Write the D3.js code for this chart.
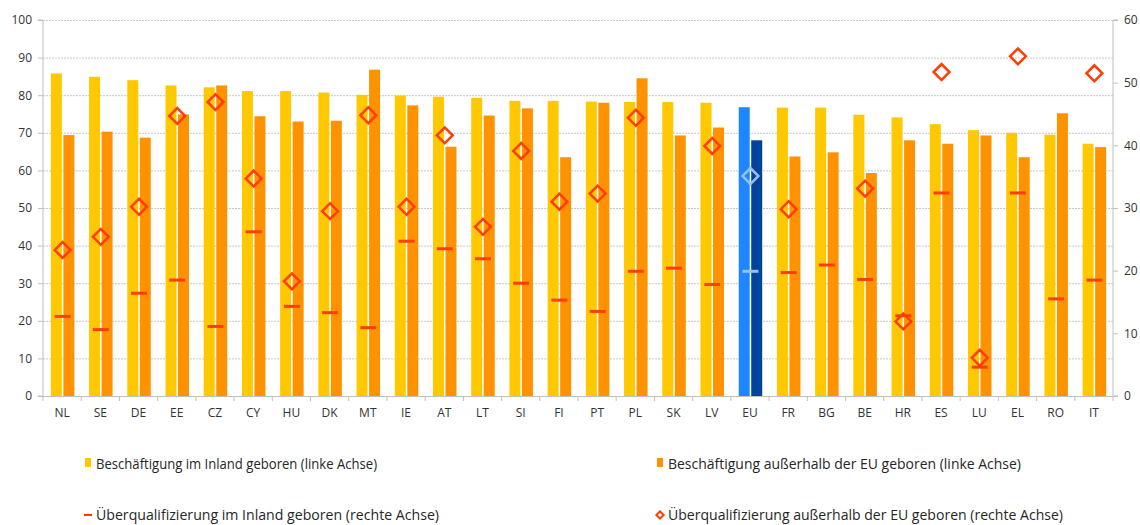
<!DOCTYPE html>
<html><head><meta charset="utf-8">
<script src="https://cdn.jsdelivr.net/npm/d3@7"></script>
<style>body{margin:0;background:#fff}svg{display:block}text{font-family:"Open Sans","Liberation Sans",sans-serif}</style>
</head><body><svg id="c" width="1140" height="525"></svg>
<script>
const categories=["NL","SE","DE","EE","CZ","CY","HU","DK","MT","IE","AT","LT","SI","FI","PT","PL","SK","LV","EU","FR","BG","BE","HR","ES","LU","EL","RO","IT"];
const empNative=[85.8,84.9,84.0,82.6,82.1,81.1,81.1,80.7,80.1,79.9,79.6,79.3,78.5,78.5,78.3,78.2,78.2,78.0,76.8,76.7,76.7,74.8,74.1,72.3,70.7,70.0,69.5,67.1];
const empNonEU=[69.4,70.3,68.7,74.9,82.6,74.4,73.0,73.2,86.8,77.3,66.3,74.6,76.5,63.5,78.0,84.5,69.3,71.4,68.0,63.7,64.8,59.3,68.0,67.1,69.3,63.5,75.2,66.2];
const overNative=[12.7,10.6,16.4,18.5,11.1,26.2,14.3,13.3,10.9,24.7,23.5,21.9,18.0,15.3,13.5,19.9,20.4,17.8,19.9,19.7,20.9,18.6,12.8,32.4,4.6,32.4,15.5,18.5];
const overNonEU=[23.3,25.4,30.2,44.7,46.9,34.7,18.3,29.5,44.8,30.2,41.6,27.0,39.1,31.0,32.3,44.4,null,39.9,35.1,29.8,null,33.1,11.9,51.7,6.1,54.2,null,51.5];
const leftTicks=[0,10,20,30,40,50,60,70,80,90,100];
const rightTicks=[0,10,20,30,40,50,60];
const legendLabels=["Beschäftigung im Inland geboren (linke Achse)","Beschäftigung außerhalb der EU geboren (linke Achse)","Überqualifizierung im Inland geboren (rechte Achse)","Überqualifizierung außerhalb der EU geboren (rechte Achse)"];

const svg=d3.select("#c");
const L=43,R=1113,T=20,B=396;
const x=d3.scaleBand().domain(categories).range([L,R]).paddingInner(0).paddingOuter(0);
const yL=d3.scaleLinear().domain([0,100]).range([B,T]);
const yR=d3.scaleLinear().domain([0,60]).range([B,T]);
const col={y:"#FFC800",o:"#FF9200",m:"#FF3D00",eu1:"#1E86FF",eu2:"#00449B",euM:"#9DBFEA"};

// gridlines
svg.append("g").selectAll("line").data(leftTicks.slice(1)).join("line")
 .attr("x1",L).attr("x2",R).attr("y1",d=>yL(d)+0.5).attr("y2",d=>yL(d)+0.5)
 .attr("stroke","#c8c8c8").attr("stroke-width",1).attr("stroke-dasharray","2,1");

// axes
const axL=svg.append("g").attr("transform",`translate(${L},0)`).call(d3.axisLeft(yL).tickValues(leftTicks).tickSize(5).tickPadding(6));
const axR=svg.append("g").attr("transform",`translate(${R},0)`).call(d3.axisRight(yR).tickValues(rightTicks).tickSize(5).tickPadding(6));
const axB=svg.append("g").attr("transform",`translate(0,${B})`).call(d3.axisBottom(x).tickSize(0).tickPadding(12));
[axL,axR,axB].forEach(a=>{a.select(".domain").attr("stroke","#bfbfbf");a.selectAll("line").attr("stroke","#bfbfbf");a.selectAll("text").attr("fill","#333").style("font-size","12px");});
axL.select(".domain").attr("d",`M-5,${T}H0V${B}H-5`);
axR.select(".domain").attr("d",`M5,${T}H0V${B}H5`);
// category separator ticks
svg.append("g").selectAll("line").data(d3.range(categories.length+1)).join("line")
 .attr("x1",i=>L+i*x.bandwidth()).attr("x2",i=>L+i*x.bandwidth()).attr("y1",B).attr("y2",B+5).attr("stroke","#bfbfbf");
svg.append("line").attr("x1",L).attr("x2",R).attr("y1",B+0.5).attr("y2",B+0.5).attr("stroke","#bfbfbf");

const bw=11, gap=1.5;
const cx=d=>x(d)+x.bandwidth()/2+0.5;
const isEU=c=>c==="EU";
const g=svg.append("g");
g.selectAll("rect.a").data(categories).join("rect").attr("class","a")
 .attr("x",c=>cx(c)-gap/2-bw).attr("width",bw)
 .attr("y",(c,i)=>yL(empNative[i])).attr("height",(c,i)=>B-yL(empNative[i]))
 .attr("fill",c=>isEU(c)?col.eu1:col.y);
g.selectAll("rect.b").data(categories).join("rect").attr("class","b")
 .attr("x",c=>cx(c)+gap/2).attr("width",bw)
 .attr("y",(c,i)=>yL(empNonEU[i])).attr("height",(c,i)=>B-yL(empNonEU[i]))
 .attr("fill",c=>isEU(c)?col.eu2:col.o);
// dashes
g.selectAll("line.d").data(categories).join("line").attr("class","d")
 .attr("x1",c=>cx(c)-8).attr("x2",c=>cx(c)+8)
 .attr("y1",(c,i)=>yR(overNative[i])).attr("y2",(c,i)=>yR(overNative[i]))
 .attr("stroke",c=>isEU(c)?col.euM:col.m).attr("stroke-width",3);
// diamonds
const dia=d3.symbol().type(d3.symbolSquare).size(125);
g.selectAll("path.m").data(categories.map((c,i)=>({c,v:overNonEU[i]})).filter(d=>d.v!=null)).join("path").attr("class","m")
 .attr("d",dia).attr("transform",d=>`translate(${cx(d.c)},${yR(d.v)}) rotate(45)`)
 .attr("fill","none").attr("stroke",d=>isEU(d.c)?col.euM:col.m).attr("stroke-width",2.5);

// legend
const lg=svg.append("g");
const pos=[[88,465],[660,465],[88,516],[660,516]];
const lens=[281,353,343,395];
lg.append("rect").attr("x",pos[0][0]-3).attr("y",pos[0][1]-7).attr("width",6).attr("height",9).attr("fill",col.y);
lg.append("rect").attr("x",pos[1][0]-3).attr("y",pos[1][1]-7).attr("width",6).attr("height",9).attr("fill",col.o);
lg.append("line").attr("x1",pos[2][0]-4).attr("x2",pos[2][0]+4).attr("y1",pos[2][1]-1).attr("y2",pos[2][1]-1).attr("stroke",col.m).attr("stroke-width",2);
lg.append("path").attr("d",d3.symbol().type(d3.symbolSquare).size(26)).attr("transform",`translate(${pos[3][0]},${pos[3][1]-1}) rotate(45)`).attr("fill","none").attr("stroke",col.m).attr("stroke-width",2);
lg.selectAll("text").data(legendLabels).join("text")
 .attr("x",(d,i)=>pos[i][0]+8).attr("y",(d,i)=>pos[i][1]+4).attr("fill","#262626")
 .attr("textLength",(d,i)=>lens[i]).attr("lengthAdjust","spacingAndGlyphs")
 .style("font-size","14px").text(d=>d);
</script></body></html>
